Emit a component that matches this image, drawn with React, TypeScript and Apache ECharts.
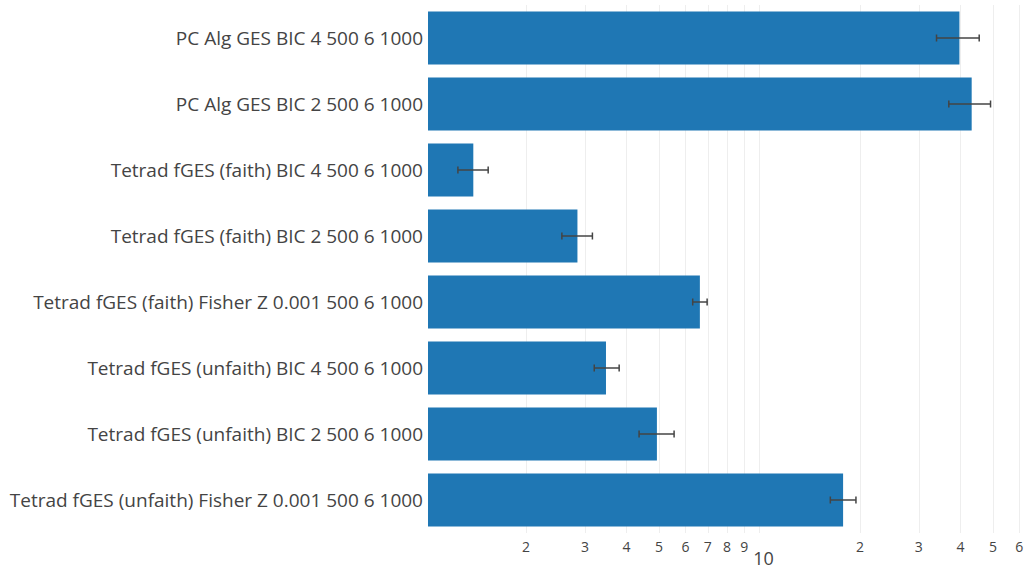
import React, { useEffect, useRef } from "react";
import * as echarts from "echarts";

const categories = [
  "PC Alg GES BIC 4 500 6 1000",
  "PC Alg GES BIC 2 500 6 1000",
  "Tetrad fGES (faith) BIC 4 500 6 1000",
  "Tetrad fGES (faith) BIC 2 500 6 1000",
  "Tetrad fGES (faith) Fisher Z 0.001 500 6 1000",
  "Tetrad fGES (unfaith) BIC 4 500 6 1000",
  "Tetrad fGES (unfaith) BIC 2 500 6 1000",
  "Tetrad fGES (unfaith) Fisher Z 0.001 500 6 1000",
];
const values = [39.7, 43.2, 1.39, 2.85, 6.63, 3.47, 4.93, 17.8];
const errLow = [33.9, 36.9, 1.25, 2.56, 6.31, 3.2, 4.36, 16.3];
const errHigh = [45.5, 49.2, 1.54, 3.16, 6.97, 3.8, 5.55, 19.45];
const tickValues = [2, 3, 4, 5, 6, 7, 8, 9, 10, 20, 30, 40, 50, 60];

export default function App() {
  const ref = useRef<HTMLDivElement>(null);
  useEffect(() => {
    document.body.style.margin = "0";
    const chart = echarts.init(ref.current!, null, { renderer: "svg" });
    const errData = errLow.map((lo, i) => [lo, errHigh[i], i]);
    chart.setOption({
      animation: false,
      grid: { left: 428, right: 7, top: 5, bottom: 36, containLabel: false },
      xAxis: {
        type: "log",
        min: 1.017,
        max: 60.7,
        axisLine: { show: false },
        axisTick: { show: false, customValues: tickValues },
        splitLine: { show: true, lineStyle: { color: "#eeeeee", width: 1 } },
        axisLabel: {
          customValues: tickValues,
          margin: 6,
          color: "#444",
          fontFamily: "Open Sans",
          fontSize: 14,
          formatter: (v: number) =>
            v === 10 ? "{big|10}" : String(v >= 10 ? Math.round(v / 10) : v),
          rich: {
            big: {
              fontSize: 18,
              fontFamily: "Open Sans",
              color: "#444",
              padding: [10, 0, 0, 8],
            },
          },
        },
      },
      yAxis: {
        type: "category",
        inverse: true,
        data: categories,
        axisLine: { show: false },
        axisTick: { show: false },
        axisLabel: {
          margin: 5,
          color: "#444",
          fontFamily: "Open Sans",
          fontSize: 19,
        },
      },
      series: [
        {
          type: "bar",
          data: values,
          barCategoryGap: "20%",
          itemStyle: { color: "#1f77b4" },
          clip: true,
        },
        {
          type: "custom",
          data: errData,
          clip: false,
          z: 5,
          renderItem: (params: any, api: any) => {
            const lo = api.coord([api.value(0), api.value(2)]);
            const hi = api.coord([api.value(1), api.value(2)]);
            const y = lo[1];
            const h = 3.5;
            const style = { stroke: "#444", lineWidth: 1.5 };
            return {
              type: "group",
              children: [
                { type: "line", shape: { x1: lo[0], y1: y, x2: hi[0], y2: y }, style },
                { type: "line", shape: { x1: lo[0], y1: y - h, x2: lo[0], y2: y + h }, style },
                { type: "line", shape: { x1: hi[0], y1: y - h, x2: hi[0], y2: y + h }, style },
              ],
            };
          },
        },
      ],
    });
    return () => chart.dispose();
  }, []);
  return <div ref={ref} style={{ width: 1028, height: 569 }} />;
}
